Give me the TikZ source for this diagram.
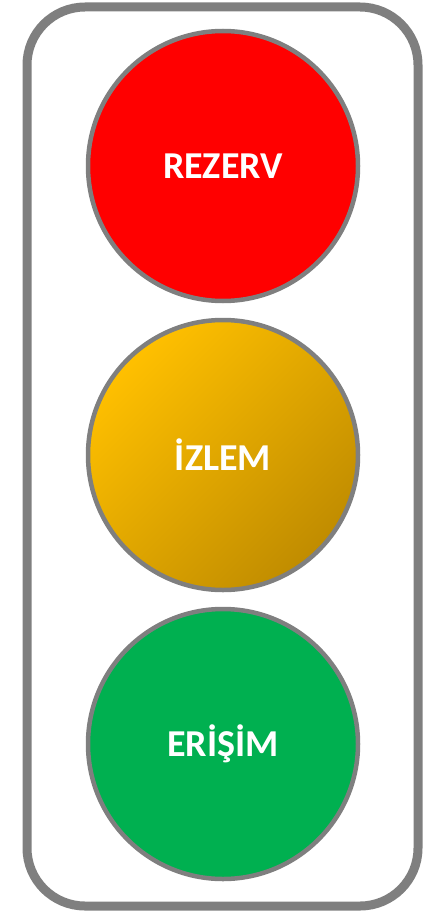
\documentclass[tikz,border=0pt]{standalone}
\usepackage{fontspec}
\setmainfont{Carlito}
\definecolor{framegray}{HTML}{7F7F7F}
\definecolor{lampred}{HTML}{FF0000}
\definecolor{lampgreen}{HTML}{00B050}
\definecolor{ambertop}{HTML}{FFC000}
\definecolor{ambermid}{HTML}{F2B400}
\definecolor{amberbot}{HTML}{C08C00}
\begin{document}
\begin{tikzpicture}[x=1pt,y=-1pt,
  lamp/.style={circle, minimum size=270pt, inner sep=0pt, draw=framegray, line width=4.5pt,
    text=white, font=\fontsize{38}{40}\selectfont\bfseries}]
\useasboundingbox (0,0) rectangle (433,915);
\draw[framegray, line width=9pt, rounded corners=58pt] (27,7) rectangle (418,906);
\node[lamp, fill=lampred] (red) at (223,166) {REZERV};
\node[lamp, left color=ambertop, middle color=ambermid, right color=amberbot, shading angle=45] (amber) at (223,455) {İZLEM};
\node[lamp, fill=lampgreen] (green) at (223,744) {ERİŞİM};
\end{tikzpicture}
\end{document}
